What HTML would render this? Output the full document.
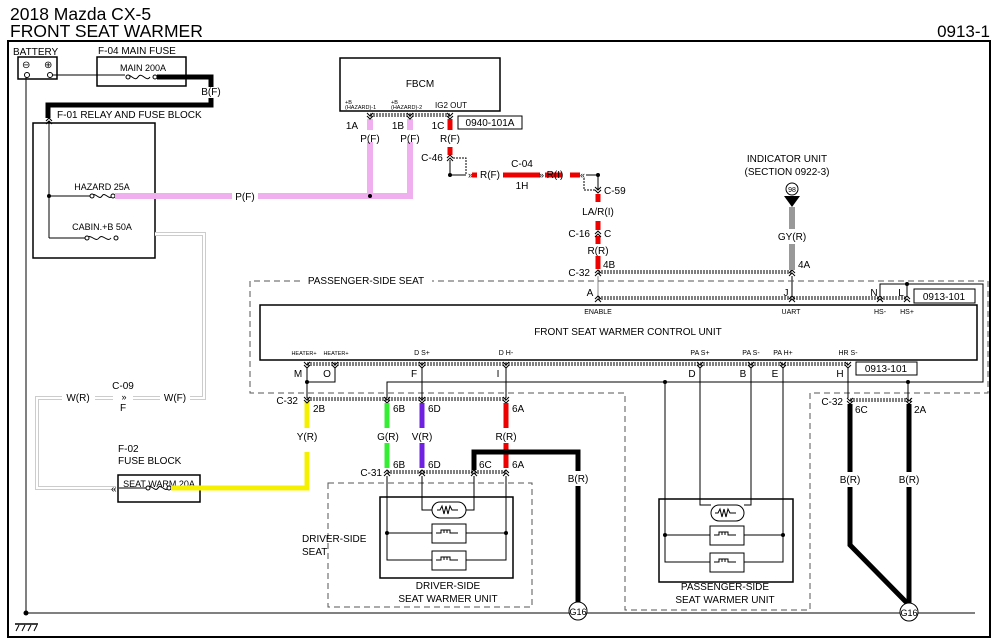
<!DOCTYPE html>
<html><head><meta charset="utf-8"><style>
html,body{margin:0;padding:0;background:#fff;}
svg{display:block;font-family:"Liberation Sans",sans-serif;}
text{fill:#000;}
</style></head><body>
<svg width="1000" height="642" viewBox="0 0 1000 642" xmlns="http://www.w3.org/2000/svg">
<defs>
<g id="cn"><path d="M-3,-3 L0,0 L3,-3 M-3,0 L0,3 L3,0" fill="none" stroke="#000" stroke-width="1"/></g>
<g id="cu"><path d="M-3,3 L0,0 L3,3 M-3,0 L0,-3 L3,0" fill="none" stroke="#000" stroke-width="1"/></g>
</defs>
<text x="10" y="20" font-size="17.5">2018 Mazda CX-5</text>
<text x="10" y="37" font-size="17.5">FRONT SEAT WARMER</text>
<text x="990" y="37" font-size="17" text-anchor="end">0913-1</text>
<rect x="8" y="41" width="982" height="596" fill="none" stroke="#000" stroke-width="2"/>

<!-- battery -->
<text x="13" y="55" font-size="10">BATTERY</text>
<rect x="18" y="57" width="39" height="22" fill="none" stroke="#000" stroke-width="1.5"/>
<text x="22" y="68" font-size="10">⊖</text><text x="44" y="68" font-size="10">⊕</text>
<circle cx="27" cy="75" r="2.5" fill="#fff" stroke="#000"/><circle cx="50" cy="75" r="2.5" fill="#fff" stroke="#000"/>
<line x1="26" y1="77" x2="26" y2="613" stroke="#000"/>
<circle cx="26" cy="613" r="2.5"/>
<line x1="26" y1="613" x2="975" y2="613" stroke="#000"/>
<line x1="15" y1="624" x2="38" y2="624" stroke="#000" stroke-width="1.5"/>
<path d="M19,625 l-3,6 M25,625 l-3,6 M31,625 l-3,6 M37,625 l-3,6" stroke="#000"/>
<line x1="52" y1="75" x2="125" y2="75" stroke="#000"/>

<!-- main fuse -->
<text x="98" y="54" font-size="10">F-04  MAIN FUSE</text>
<rect x="97" y="57" width="89" height="29" fill="none" stroke="#000" stroke-width="1.5"/>
<text x="143" y="71" font-size="9" text-anchor="middle">MAIN 200A</text>
<path d="M126,77 c4,-6 8,6 12,0 c4,-6 8,6 12,0" fill="none" stroke="#000"/>
<circle cx="128" cy="77" r="2" fill="#fff" stroke="#000"/><circle cx="155" cy="77" r="2" fill="#fff" stroke="#000"/>
<path d="M157,77 H211 V87" fill="none" stroke="#000" stroke-width="5"/>
<text x="211" y="95" font-size="10" text-anchor="middle">B(F)</text>
<path d="M211,98 V105 H48 V118" fill="none" stroke="#000" stroke-width="5"/>
<text x="57" y="118" font-size="10">F-01  RELAY AND FUSE BLOCK</text>
<use href="#cu" x="49" y="121"/>

<!-- relay block -->
<rect x="33" y="123" width="122" height="135" fill="none" stroke="#000" stroke-width="1.5"/>
<line x1="49" y1="121" x2="49" y2="238" stroke="#000"/>
<circle cx="49" cy="196" r="2"/>
<text x="102" y="190" font-size="9" text-anchor="middle">HAZARD 25A</text>
<line x1="49" y1="196" x2="92" y2="196" stroke="#000"/>
<path d="M92,196 c3,-5 7,5 10,0 c3,-5 7,5 10,0" fill="none" stroke="#000"/>
<circle cx="92" cy="196" r="2" fill="#fff" stroke="#000"/><circle cx="113" cy="196" r="2" fill="#fff" stroke="#000"/>
<text x="102" y="230" font-size="9" text-anchor="middle">CABIN.+B 50A</text>
<line x1="49" y1="238" x2="87" y2="238" stroke="#000"/>
<path d="M87,238 c4,-5 8,5 12,0 c4,-5 8,5 12,0" fill="none" stroke="#000"/>
<circle cx="87" cy="238" r="2" fill="#fff" stroke="#000"/><circle cx="116" cy="238" r="2" fill="#fff" stroke="#000"/>

<!-- pink wire -->
<path d="M115,196 H232 M258,196 H410 V119 M370,196 V119" fill="none" stroke="#f0b0f0" stroke-width="6"/>
<text x="245" y="200" font-size="10" text-anchor="middle">P(F)</text>
<circle cx="370" cy="196" r="2"/>

<!-- grey W wire -->
<path d="M155,234 H204 V398 H190" fill="none" stroke="#ccc" stroke-width="4"/>
<path d="M155,234 H204 V398 H190" fill="none" stroke="#fff" stroke-width="2"/>
<path d="M160,398 H133 M113,398 H95 M62,398 H37 V488 H116" fill="none" stroke="#ccc" stroke-width="4"/>
<path d="M160,398 H133 M113,398 H95 M62,398 H37 V488 H116" fill="none" stroke="#fff" stroke-width="2"/>
<text x="175" y="401" font-size="10" text-anchor="middle">W(F)</text>
<text x="78" y="401" font-size="10" text-anchor="middle">W(R)</text>
<text x="123" y="389" font-size="10" text-anchor="middle">C-09</text>
<text x="124" y="400" font-size="9" text-anchor="middle">»</text>
<text x="123" y="411" font-size="10" text-anchor="middle">F</text>

<!-- fuse block F-02 -->
<text x="118" y="452" font-size="10">F-02</text>
<text x="118" y="464" font-size="10">FUSE BLOCK</text>
<rect x="118" y="475" width="82" height="27" fill="none" stroke="#000" stroke-width="1.5"/>
<text x="159" y="487" font-size="9" text-anchor="middle">SEAT WARM 20A</text>
<text x="111" y="492" font-size="10">«</text>
<line x1="119" y1="488" x2="148" y2="488" stroke="#000"/>
<path d="M148,488 c3,-5 7,5 10,0 c3,-5 7,5 10,0" fill="none" stroke="#000"/>
<circle cx="148" cy="488" r="2" fill="#fff" stroke="#000"/><circle cx="169" cy="488" r="2" fill="#fff" stroke="#000"/>
<path d="M171,488 H307 V452 M307,428 V402" fill="none" stroke="#f5f000" stroke-width="5"/>
<text x="307" y="440" font-size="10" text-anchor="middle">Y(R)</text>
<text x="313" y="412" font-size="10">2B</text>

<!-- FBCM -->
<rect x="340" y="58" width="160" height="53" fill="none" stroke="#000" stroke-width="1.5"/>
<text x="420" y="87" font-size="10" text-anchor="middle">FBCM</text>
<text x="345" y="104" font-size="5.5">+B</text><text x="345" y="109" font-size="5.5">(HAZARD)-1</text>
<text x="391" y="104" font-size="5.5">+B</text><text x="391" y="109" font-size="5.5">(HAZARD)-2</text>
<text x="435" y="108" font-size="8">IG2 OUT</text>
<path d="M370,115 H450" stroke="#000" stroke-dasharray="2,1" stroke-width="3" fill="none"/>
<path d="M370,115 H450" stroke="#fff" stroke-width="1" fill="none"/>
<use href="#cn" x="370" y="116"/><use href="#cn" x="410" y="116"/><use href="#cn" x="450" y="116"/>
<rect x="458" y="116" width="64" height="13" fill="#fff" stroke="#000"/>
<text x="490" y="126" font-size="10" text-anchor="middle">0940-101A</text>
<text x="352" y="129" font-size="10" text-anchor="middle">1A</text>
<text x="398" y="129" font-size="10" text-anchor="middle">1B</text>
<text x="438" y="129" font-size="10" text-anchor="middle">1C</text>
<rect x="367" y="130" width="6" height="12" fill="#fff"/><rect x="407" y="130" width="6" height="12" fill="#fff"/>
<text x="370" y="142" font-size="10" text-anchor="middle">P(F)</text>
<text x="410" y="142" font-size="10" text-anchor="middle">P(F)</text>
<path d="M450,119 V130 M450,147 V155" stroke="#e00" stroke-width="5"/>
<text x="450" y="142" font-size="10" text-anchor="middle">R(F)</text>
<text x="432" y="161" font-size="10" text-anchor="middle">C-46</text>
<use href="#cu" x="450" y="158"/>
<path d="M450,160 V175 H466" stroke="#000" fill="none"/><circle cx="450" cy="175" r="2"/>
<path d="M453,158 H466 V175" stroke="#000" stroke-dasharray="2,1" fill="none"/>
<text x="468" y="178" font-size="9">»</text>
<path d="M472,175 H477 M503,175 H540 M545,175 H562 M570,175 H580" stroke="#e00" stroke-width="5"/>
<text x="490" y="178" font-size="10" text-anchor="middle">R(F)</text>
<text x="522" y="167" font-size="10" text-anchor="middle">C-04</text>
<text x="539" y="178" font-size="9">»</text>
<text x="522" y="189" font-size="10" text-anchor="middle">1H</text>
<text x="555" y="178" font-size="10" text-anchor="middle">R(I)</text>
<text x="580" y="178" font-size="9">«</text>
<path d="M586,175 H598 V190" stroke="#000" fill="none"/><circle cx="598" cy="175" r="2"/>
<path d="M584,178 V190 H596" stroke="#000" stroke-dasharray="2,1" fill="none"/>
<use href="#cn" x="598" y="190"/>
<text x="604" y="194" font-size="10">C-59</text>
<path d="M598,194 V202 M598,221 V230 M598,236 V244 M598,256 V269" stroke="#e00" stroke-width="5"/>
<text x="598" y="215" font-size="10" text-anchor="middle">LA/R(I)</text>
<use href="#cu" x="598" y="234"/>
<text x="590" y="237" font-size="10" text-anchor="end">C-16</text>
<text x="604" y="237" font-size="10">C</text>
<text x="598" y="254" font-size="10" text-anchor="middle">R(R)</text>
<text x="603" y="268" font-size="10">4B</text>
<text x="590" y="276" font-size="10" text-anchor="end">C-32</text>
<path d="M598,272 H792" stroke="#000" stroke-dasharray="2,1" stroke-width="3" fill="none"/>
<path d="M598,272 H792" stroke="#fff" stroke-width="1"/>
<use href="#cu" x="598" y="273"/><use href="#cu" x="792" y="273"/>
<line x1="598" y1="276" x2="598" y2="297" stroke="#888"/>

<!-- indicator -->
<text x="787" y="162" font-size="10" text-anchor="middle">INDICATOR UNIT</text>
<text x="787" y="175" font-size="10" text-anchor="middle">(SECTION 0922-3)</text>
<circle cx="792" cy="189" r="6" fill="#fff" stroke="#000"/>
<text x="792" y="192" font-size="7" text-anchor="middle">98</text>
<path d="M784,196 H800 L792,207 Z"/>
<path d="M792,207 V229 M792,244 V270" stroke="#999" stroke-width="6"/>
<text x="792" y="240" font-size="10" text-anchor="middle">GY(R)</text>
<text x="798" y="268" font-size="10">4A</text>
<line x1="792" y1="276" x2="792" y2="297" stroke="#000"/>

<!-- passenger seat dashed -->
<path d="M300,281 H250 V393 H625 V610 H810 V393 H988 V281 H432" fill="none" stroke="#555" stroke-dasharray="6,4"/>
<text x="366" y="284" font-size="10" text-anchor="middle">PASSENGER-SIDE SEAT</text>

<text x="590" y="296" font-size="10" text-anchor="middle">A</text>
<text x="786" y="296" font-size="10" text-anchor="middle">J</text>
<text x="874" y="296" font-size="10" text-anchor="middle">N</text>
<text x="901" y="296" font-size="10" text-anchor="middle">L</text>
<path d="M598,298 H907" stroke="#000" stroke-dasharray="2,1" stroke-width="3" fill="none"/>
<path d="M598,298 H907" stroke="#fff" stroke-width="1"/>
<use href="#cu" x="598" y="299"/><use href="#cu" x="792" y="299"/><use href="#cu" x="880" y="299"/><use href="#cu" x="907" y="299"/>
<path d="M880,296 V284 H983 V382 H387 V398" fill="none" stroke="#000"/>
<path d="M907,296 V284" stroke="#000"/><circle cx="907" cy="284" r="2"/>
<rect x="914" y="289" width="61" height="14" fill="#fff" stroke="#000"/>
<text x="944" y="300" font-size="10" text-anchor="middle">0913-101</text>

<!-- control unit -->
<rect x="260" y="305" width="717" height="55" fill="none" stroke="#000" stroke-width="1.5"/>
<text x="628" y="335" font-size="10" text-anchor="middle">FRONT SEAT WARMER CONTROL UNIT</text>
<text x="598" y="314" font-size="7" text-anchor="middle">ENABLE</text>
<text x="791" y="314" font-size="7" text-anchor="middle">UART</text>
<text x="880" y="314" font-size="7" text-anchor="middle">HS-</text>
<text x="907" y="314" font-size="7" text-anchor="middle">HS+</text>
<text x="304" y="355" font-size="5.5" text-anchor="middle">HEATER+</text>
<text x="336" y="355" font-size="5.5" text-anchor="middle">HEATER+</text>
<text x="422" y="355" font-size="7" text-anchor="middle">D S+</text>
<text x="506" y="355" font-size="7" text-anchor="middle">D H-</text>
<text x="700" y="355" font-size="7" text-anchor="middle">PA S+</text>
<text x="751" y="355" font-size="7" text-anchor="middle">PA S-</text>
<text x="783" y="355" font-size="7" text-anchor="middle">PA H+</text>
<text x="848" y="355" font-size="7" text-anchor="middle">HR S-</text>
<path d="M307,364 H848" stroke="#000" stroke-dasharray="2,1" stroke-width="3" fill="none"/>
<path d="M307,364 H848" stroke="#fff" stroke-width="1"/>
<use href="#cn" x="307" y="365"/><use href="#cn" x="335" y="365"/><use href="#cn" x="422" y="365"/><use href="#cn" x="506" y="365"/>
<use href="#cn" x="700" y="365"/><use href="#cn" x="751" y="365"/><use href="#cn" x="783" y="365"/><use href="#cn" x="848" y="365"/>
<rect x="856" y="362" width="61" height="13" fill="#fff" stroke="#000"/>
<text x="886" y="372" font-size="10" text-anchor="middle">0913-101</text>
<text x="298" y="377" font-size="10" text-anchor="middle">M</text>
<text x="327" y="377" font-size="10" text-anchor="middle">O</text>
<text x="414" y="377" font-size="10" text-anchor="middle">F</text>
<text x="498" y="377" font-size="10" text-anchor="middle">I</text>
<text x="692" y="377" font-size="10" text-anchor="middle">D</text>
<text x="743" y="377" font-size="10" text-anchor="middle">B</text>
<text x="775" y="377" font-size="10" text-anchor="middle">E</text>
<text x="840" y="377" font-size="10" text-anchor="middle">H</text>
<path d="M307,368 V398 M307,382 H335 V368" fill="none" stroke="#000"/><circle cx="307" cy="382" r="2"/>
<path d="M422,368 V398 M506,368 V398" stroke="#000"/>
<path d="M700,368 V505 H711 M751,368 V505 H744 M783,368 V535 M665,382 V535" fill="none" stroke="#000"/>
<circle cx="665" cy="382" r="2"/><circle cx="908" cy="382" r="2"/>
<path d="M848,368 V398 M908,382 V398" stroke="#000"/>
<path d="M665,535 V562 H783 V535 M665,535 H783" fill="none" stroke="#000"/>

<!-- C-32 lower row -->
<text x="298" y="404" font-size="10" text-anchor="end">C-32</text>
<path d="M307,399 H506" stroke="#000" stroke-dasharray="2,1" stroke-width="3" fill="none"/>
<path d="M307,399 H506" stroke="#fff" stroke-width="1"/>
<use href="#cn" x="307" y="400"/><use href="#cn" x="387" y="400"/><use href="#cn" x="422" y="400"/><use href="#cn" x="506" y="400"/>
<path d="M387,403 V428 M387,443 V468" stroke="#3e3" stroke-width="5"/>
<path d="M422,403 V428 M422,443 V468" stroke="#7020e0" stroke-width="5"/>
<path d="M506,403 V428 M506,443 V468" stroke="#e00" stroke-width="5"/>
<text x="393" y="412" font-size="10">6B</text><text x="428" y="412" font-size="10">6D</text><text x="512" y="412" font-size="10">6A</text>
<text x="388" y="440" font-size="10" text-anchor="middle">G(R)</text>
<text x="422" y="440" font-size="10" text-anchor="middle">V(R)</text>
<text x="506" y="440" font-size="10" text-anchor="middle">R(R)</text>
<text x="393" y="468" font-size="10">6B</text><text x="428" y="468" font-size="10">6D</text>
<text x="479" y="468" font-size="10">6C</text><text x="512" y="468" font-size="10">6A</text>
<path d="M474,470 V452 H578 V471 M578,486 V604" fill="none" stroke="#000" stroke-width="5"/>
<text x="578" y="482" font-size="10" text-anchor="middle">B(R)</text>
<text x="382" y="476" font-size="10" text-anchor="end">C-31</text>
<path d="M387,472 H506" stroke="#000" stroke-dasharray="2,1" stroke-width="3" fill="none"/>
<path d="M387,472 H506" stroke="#fff" stroke-width="1"/>
<use href="#cu" x="387" y="473"/><use href="#cu" x="422" y="473"/><use href="#cu" x="474" y="473"/><use href="#cu" x="506" y="473"/>
<circle cx="578" cy="611" r="9" fill="#fff" stroke="#000"/>
<text x="578" y="615" font-size="9" text-anchor="middle">G16</text>

<!-- driver seat -->
<rect x="328" y="483" width="204" height="124" fill="none" stroke="#555" stroke-dasharray="6,4"/>
<text x="302" y="542" font-size="10">DRIVER-SIDE</text>
<text x="302" y="555" font-size="10">SEAT</text>
<rect x="380" y="497" width="133" height="81" fill="none" stroke="#000" stroke-width="1.5"/>
<path d="M387,476 V560 H506 V476 M387,533 H506 M422,476 V510 H432 M474,476 V510 H455" fill="none" stroke="#000"/>
<circle cx="387" cy="533" r="2"/><circle cx="506" cy="533" r="2"/>
<rect x="432" y="502" width="34" height="16" rx="8" fill="#fff" stroke="#000"/>
<path d="M437,510 l3,0 l2,-4 l2,8 l2,-8 l2,8 l2,-8 l2,4 l6,0" fill="none" stroke="#000"/>
<rect x="432" y="524" width="34" height="19" fill="#fff" stroke="#000"/>
<rect x="432" y="551" width="34" height="19" fill="#fff" stroke="#000"/>
<path d="M436,533 h5 v-3 h3 v3 v-3 h3 v3 v-3 h3 v3 h8 M436,560 h5 v-3 h3 v3 v-3 h3 v3 v-3 h3 v3 h8" fill="none" stroke="#000"/>
<text x="448" y="589" font-size="10" text-anchor="middle">DRIVER-SIDE</text>
<text x="448" y="602" font-size="10" text-anchor="middle">SEAT WARMER UNIT</text>

<!-- passenger warmer -->
<rect x="659" y="499" width="134" height="83" fill="none" stroke="#000" stroke-width="1.5"/>
<rect x="711" y="505" width="33" height="16" rx="8" fill="#fff" stroke="#000"/>
<path d="M715,513 l3,0 l2,-4 l2,8 l2,-8 l2,8 l2,-8 l2,4 l6,0" fill="none" stroke="#000"/>
<rect x="710" y="526" width="34" height="19" fill="#fff" stroke="#000"/>
<rect x="710" y="553" width="34" height="19" fill="#fff" stroke="#000"/>
<path d="M714,535 h5 v-3 h3 v3 v-3 h3 v3 v-3 h3 v3 h8 M714,562 h5 v-3 h3 v3 v-3 h3 v3 v-3 h3 v3 h8" fill="none" stroke="#000"/>
<circle cx="665" cy="535" r="2"/><circle cx="783" cy="535" r="2"/>
<text x="725" y="590" font-size="10" text-anchor="middle">PASSENGER-SIDE</text>
<text x="725" y="603" font-size="10" text-anchor="middle">SEAT WARMER UNIT</text>

<!-- right ground -->
<text x="843" y="405" font-size="10" text-anchor="end">C-32</text>
<path d="M850,400 H911" stroke="#000" stroke-dasharray="2,1" stroke-width="3" fill="none"/>
<path d="M850,400 H911" stroke="#fff" stroke-width="1"/>
<use href="#cn" x="850" y="401"/><use href="#cn" x="909" y="401"/>
<text x="855" y="413" font-size="10">6C</text><text x="914" y="413" font-size="10">2A</text>
<path d="M850,404 V472 M850,487 V545 L909,605 M909,404 V472 M909,487 V605" fill="none" stroke="#000" stroke-width="5"/>
<text x="850" y="483" font-size="10" text-anchor="middle">B(R)</text>
<text x="909" y="483" font-size="10" text-anchor="middle">B(R)</text>
<circle cx="909" cy="612" r="9" fill="#fff" stroke="#000"/>
<text x="909" y="616" font-size="9" text-anchor="middle">G16</text>
</svg>
</body></html>
